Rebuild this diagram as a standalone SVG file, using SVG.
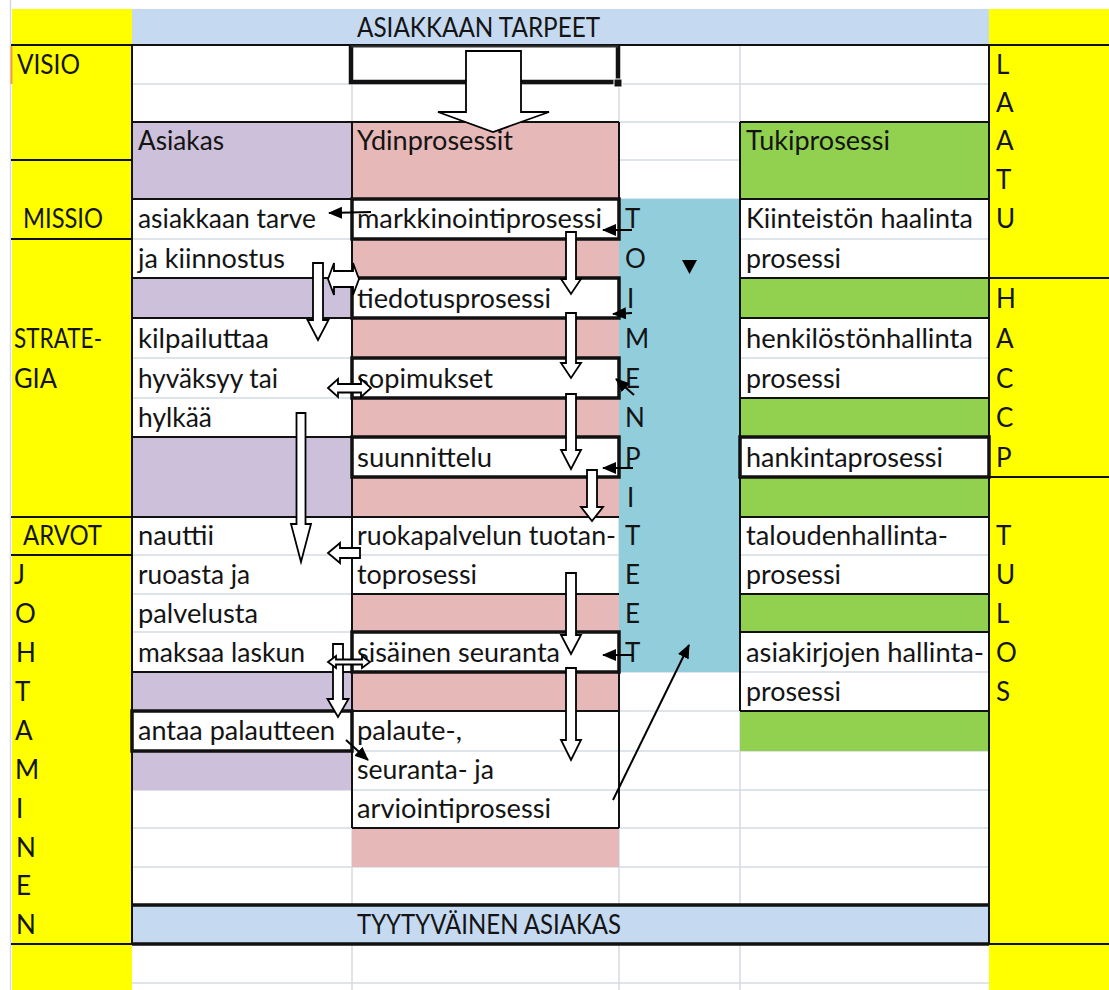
<svg xmlns="http://www.w3.org/2000/svg" width="1109" height="990" viewBox="0 0 1109 990">
<style>
  text{font-family:Lato,"Open Sans","Liberation Sans",sans-serif;font-size:26px;fill:#141414}
  .grid{stroke:#D5DBE5;stroke-width:1.5;fill:none}
  .thin{stroke:#111;stroke-width:2;fill:none}
  .bold{stroke:#111;stroke-width:3.5;fill:none}
  .yel{fill:#FFFF00}
  .hdr{fill:#C5D9F1}
  .cust{fill:#CCC0DA}
  .core{fill:#E6B8B7}
  .sup{fill:#92D050}
  .act{fill:#92CDDC}
  .blk{fill:#fff;stroke:#000;stroke-width:1.8;stroke-linejoin:miter}
  .ptr{stroke:#000;stroke-width:2;fill:none;marker-end:url(#head)}
</style>
<defs>
  <marker id="head" viewBox="0 0 14 12" refX="13" refY="6" markerWidth="14" markerHeight="12" markerUnits="userSpaceOnUse" orient="auto">
    <path d="M0 0L14 6L0 12z" fill="#000"/>
  </marker>
</defs>

<rect width="1109" height="990" fill="#fff"/>

<!-- sheet gridlines -->
<path class="grid" d="M132 84H989M132 122H989M132 160H989M132 199H989M132 239H989M132 278H989M132 318H989M132 358H989M132 398H989M132 437H989M132 477H989M132 517H989M132 555H989M132 594H989M132 632H989M132 672H989M132 711H989M132 751H989M132 790H989M132 828H989M132 867H989M132 905H989M132 944H989M132 983H989M352 45V990M619 45V990M740 45V990M10.5 0V990"/>

<!-- side bands and header/footer fills -->
<rect class="yel" x="12" y="9" width="120" height="981"/>
<rect class="yel" x="989" y="9" width="120" height="981"/>
<rect class="hdr" x="132" y="9" width="857" height="36"/>
<rect class="hdr" x="132" y="905" width="857" height="39"/>
<line x1="11.5" y1="46" x2="11.5" y2="84" stroke="#F0A040" stroke-width="2"/>

<!-- empty coloured cells -->
<g id="customer-bands" class="cust">
  <rect x="132" y="122" width="220" height="77"/>
  <rect x="132" y="278" width="220" height="40"/>
  <rect x="132" y="437" width="220" height="80"/>
  <rect x="132" y="672" width="220" height="39"/>
  <rect x="132" y="751" width="220" height="39"/>
</g>
<g id="core-bands" class="core">
  <rect x="352" y="122" width="267" height="77"/>
  <rect x="352" y="239" width="267" height="39"/>
  <rect x="352" y="318" width="267" height="40"/>
  <rect x="352" y="398" width="267" height="39"/>
  <rect x="352" y="477" width="267" height="40"/>
  <rect x="352" y="594" width="267" height="38"/>
  <rect x="352" y="672" width="267" height="39"/>
  <rect x="352" y="828" width="267" height="39"/>
</g>
<g id="support-bands" class="sup">
  <rect x="740" y="122" width="249" height="77"/>
  <rect x="740" y="278" width="249" height="40"/>
  <rect x="740" y="398" width="249" height="39"/>
  <rect x="740" y="477" width="249" height="40"/>
  <rect x="740" y="594" width="249" height="38"/>
  <rect x="740" y="711" width="249" height="40"/>
</g>
<rect class="act" x="619" y="199" width="121" height="473"/>

<!-- cell borders -->
<path class="thin" d="M11 45H1109M11 160H132M11 239H132M11 517H132M11 555H132M11 944H132M989 944H1109M989 278H1109M989 477H1109M132 45V944M989 45V944M132 122H619M132 199H352M132 278H352M132 318H352M132 437H352M132 517H619M132 672H352M352 594H619M352 711H619M352 828H619M352 122V828M619 122V199M619 672V828M740 122H989M740 199H989M740 278H989M740 318H989M740 398H989M740 517H989M740 594H989M740 632H989M740 711H989M740 122V711"/>
<path class="bold" d="M132 905H989M132 944H989"/>

<!-- left band: management levels -->
<g id="levels">
  <text x="17" y="74" textLength="63" lengthAdjust="spacingAndGlyphs">VISIO</text>
  <text x="23" y="228" textLength="80" lengthAdjust="spacingAndGlyphs">MISSIO</text>
  <text x="14" y="348" textLength="88" lengthAdjust="spacingAndGlyphs">STRATE-</text>
  <text x="14" y="388" textLength="43" lengthAdjust="spacingAndGlyphs">GIA</text>
  <text x="23" y="545" textLength="79" lengthAdjust="spacingAndGlyphs">ARVOT</text>
  <text x="14" y="584">J</text>
  <text x="15" y="623">O</text>
  <text x="16" y="662">H</text>
  <text x="15" y="701">T</text>
  <text x="15" y="740">A</text>
  <text x="15" y="779">M</text>
  <text x="16" y="818">I</text>
  <text x="16" y="857">N</text>
  <text x="16" y="895">E</text>
  <text x="16" y="934">N</text>
</g>

<!-- right band: quality, HACCP, results -->
<g id="quality">
  <text x="996" y="74">L</text>
  <text x="996" y="112">A</text>
  <text x="996" y="150">A</text>
  <text x="996" y="189">T</text>
  <text x="996" y="228">U</text>
  <text x="996" y="308">H</text>
  <text x="996" y="348">A</text>
  <text x="996" y="388">C</text>
  <text x="996" y="427">C</text>
  <text x="996" y="467">P</text>
  <text x="996" y="545">T</text>
  <text x="996" y="584">U</text>
  <text x="996" y="623">L</text>
  <text x="996" y="662">O</text>
  <text x="996" y="701">S</text>
</g>

<g id="customer-needs">
  <text x="357" y="37" textLength="243" lengthAdjust="spacingAndGlyphs">ASIAKKAAN TARPEET</text>
</g>
<g id="vision-cell">
  <path d="M351 46V82H618V46" fill="none" stroke="#111" stroke-width="4.5"/>
  <path d="M351 46.5H618" fill="none" stroke="#333" stroke-width="2"/>
  <rect x="614" y="79" width="8" height="8" fill="#111" stroke="#fff" stroke-width="1"/>
</g>
<g id="satisfied-customer">
  <text x="357" y="934" textLength="264" lengthAdjust="spacingAndGlyphs">TYYTYVÄINEN ASIAKAS</text>
</g>

<!-- customer column -->
<g id="customer">
  <text x="138" y="150" textLength="86" lengthAdjust="spacingAndGlyphs">Asiakas</text>
</g>
<g id="need">
  <text x="138" y="228" textLength="178" lengthAdjust="spacingAndGlyphs">asiakkaan tarve</text>
  <text x="138" y="268" textLength="147" lengthAdjust="spacingAndGlyphs">ja kiinnostus</text>
</g>
<g id="tender">
  <text x="138" y="348" textLength="131" lengthAdjust="spacingAndGlyphs">kilpailuttaa</text>
  <text x="138" y="388" textLength="140" lengthAdjust="spacingAndGlyphs">hyväksyy tai</text>
  <text x="138" y="427" textLength="74" lengthAdjust="spacingAndGlyphs">hylkää</text>
</g>
<g id="enjoy">
  <text x="138" y="545" textLength="76" lengthAdjust="spacingAndGlyphs">nauttii</text>
  <text x="138" y="584" textLength="112" lengthAdjust="spacingAndGlyphs">ruoasta ja</text>
  <text x="138" y="623" textLength="120" lengthAdjust="spacingAndGlyphs">palvelusta</text>
  <text x="138" y="662" textLength="167" lengthAdjust="spacingAndGlyphs">maksaa laskun</text>
</g>
<g id="feedback">
  <rect class="bold" x="132" y="711" width="220" height="40"/>
  <text x="138" y="740" textLength="197" lengthAdjust="spacingAndGlyphs">antaa palautteen</text>
</g>

<!-- core processes -->
<g id="core">
  <text x="357" y="150" textLength="156" lengthAdjust="spacingAndGlyphs">Ydinprosessit</text>
</g>
<g id="marketing">
  <rect class="bold" x="352" y="199" width="267" height="40"/>
  <text x="357" y="228" textLength="245" lengthAdjust="spacingAndGlyphs">markkinointiprosessi</text>
</g>
<g id="information">
  <rect class="bold" x="352" y="278" width="267" height="40"/>
  <text x="357" y="308" textLength="194" lengthAdjust="spacingAndGlyphs">tiedotusprosessi</text>
</g>
<g id="contracts">
  <rect class="bold" x="352" y="358" width="267" height="40"/>
  <text x="357" y="388" textLength="136" lengthAdjust="spacingAndGlyphs">sopimukset</text>
</g>
<g id="planning">
  <rect class="bold" x="352" y="437" width="267" height="40"/>
  <text x="357" y="467" textLength="135" lengthAdjust="spacingAndGlyphs">suunnittelu</text>
</g>
<g id="production">
  <text x="357" y="545" textLength="259" lengthAdjust="spacingAndGlyphs">ruokapalvelun tuotan-</text>
  <text x="357" y="584" textLength="120" lengthAdjust="spacingAndGlyphs">toprosessi</text>
</g>
<g id="monitoring">
  <rect class="bold" x="352" y="632" width="267" height="40"/>
  <text x="357" y="662" textLength="203" lengthAdjust="spacingAndGlyphs">sisäinen seuranta</text>
</g>
<g id="evaluation">
  <text x="357" y="740" textLength="105" lengthAdjust="spacingAndGlyphs">palaute-,</text>
  <text x="357" y="779" textLength="137" lengthAdjust="spacingAndGlyphs">seuranta- ja</text>
  <text x="357" y="818" textLength="194" lengthAdjust="spacingAndGlyphs">arviointiprosessi</text>
</g>

<!-- actions column -->
<g id="actions">
  <text x="625" y="228">T</text>
  <text x="625" y="268">O</text>
  <text x="627" y="308">I</text>
  <text x="625" y="348">M</text>
  <text x="625" y="388">E</text>
  <text x="625" y="427">N</text>
  <text x="625" y="467">P</text>
  <text x="627" y="507">I</text>
  <text x="625" y="545">T</text>
  <text x="625" y="584">E</text>
  <text x="625" y="623">E</text>
  <text x="625" y="662">T</text>
  <polygon points="682,260 697,260 689.5,274" fill="#000"/>
</g>

<!-- support processes -->
<g id="support">
  <text x="746" y="150" textLength="144" lengthAdjust="spacingAndGlyphs">Tukiprosessi</text>
</g>
<g id="property">
  <text x="746" y="228" textLength="227" lengthAdjust="spacingAndGlyphs">Kiinteistön haalinta</text>
  <text x="746" y="268" textLength="95" lengthAdjust="spacingAndGlyphs">prosessi</text>
</g>
<g id="personnel">
  <text x="746" y="348" textLength="227" lengthAdjust="spacingAndGlyphs">henkilöstönhallinta</text>
  <text x="746" y="388" textLength="95" lengthAdjust="spacingAndGlyphs">prosessi</text>
</g>
<g id="procurement">
  <rect class="bold" x="740" y="437" width="249" height="40"/>
  <text x="746" y="467" textLength="197" lengthAdjust="spacingAndGlyphs">hankintaprosessi</text>
</g>
<g id="finance">
  <text x="746" y="545" textLength="202" lengthAdjust="spacingAndGlyphs">taloudenhallinta-</text>
  <text x="746" y="584" textLength="95" lengthAdjust="spacingAndGlyphs">prosessi</text>
</g>
<g id="records">
  <text x="746" y="662" textLength="238" lengthAdjust="spacingAndGlyphs">asiakirjojen hallinta-</text>
  <text x="746" y="701" textLength="95" lengthAdjust="spacingAndGlyphs">prosessi</text>
</g>

<!-- connectors -->
<g id="connectors">
  <polygon class="blk" points="466,51 521,51 521,112 549,112 493,132 438,112 466,112"/>
  <polygon class="blk" points="566,232 576,232 576,279 581,279 571,294 561,279 566,279"/>
  <polygon class="blk" points="566,313 576,313 576,363 581,363 571,378 561,363 566,363"/>
  <polygon class="blk" points="566,394 576,394 576,450 581,450 571,469 561,450 566,450"/>
  <polygon class="blk" points="587,470 597,470 597,507 603,507 592,521 581,507 587,507"/>
  <polygon class="blk" points="566,573 576,573 576,635 581,635 571,654 561,635 566,635"/>
  <polygon class="blk" points="566,668 576,668 576,740 581,740 571,760 561,740 566,740"/>
  <polygon class="blk" points="313,263 323,263 323,320 328.5,320 318,340 307.5,320 313,320"/>
  <polygon class="blk" points="296.5,413 305.5,413 305.5,524 311,524 301,562 291,524 296.5,524"/>
  <polygon class="blk" points="333,644 343,644 343,699 348.5,699 338,717 327.5,699 333,699"/>
  <polygon class="blk" points="328,279 334,263 334,271 353,271 353,263 359,279 353,295 353,287 334,287 334,295"/>
  <polygon class="blk" points="328,388 338,379 338,384 361,384 361,379 371,388 361,397 361,392.5 338,392.5 338,397"/>
  <polygon class="blk" points="328,553 340,543 340,548 360,548 360,558 340,558 340,563"/>
  <polygon class="blk" points="328,662 336,656 336,659.5 362,659.5 362,656 370,662 362,668 362,664.5 336,664.5 336,668"/>
  <path class="ptr" d="M371 212L329 213"/>
  <path class="ptr" d="M632 230L603 230"/>
  <path class="ptr" d="M632 313L613 314"/>
  <path class="ptr" d="M634 395L616 379"/>
  <path class="ptr" d="M633 468L603 468"/>
  <path class="ptr" d="M633 655L603 655"/>
  <path class="ptr" d="M613 800L689 645"/>
  <path class="ptr" d="M346 740L368 760"/>
</g>
</svg>
